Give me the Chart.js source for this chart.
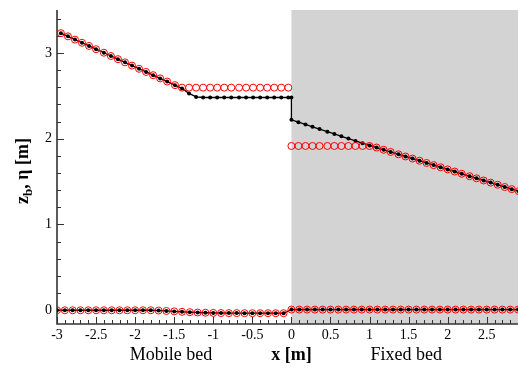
<!DOCTYPE html>
<html>
<head>
<meta charset="utf-8">
<script src="https://cdn.jsdelivr.net/npm/chart.js@4/dist/chart.umd.min.js"></script>
<style>
  html, body { margin: 0; padding: 0; background: #fff; }
  #wrap { width: 518px; height: 370px; }
</style>
</head>
<body>
<div id="wrap"><canvas id="c" width="518" height="370"></canvas></div>
<script>
// Bed elevation z_b, sampled every 0.1 m
const bedX = [-3.0,-2.9,-2.8,-2.7,-2.6,-2.5,-2.4,-2.3,-2.2,-2.1,-2.0,-1.9,-1.8,-1.7,-1.6,-1.5,-1.4,-1.3,-1.2,-1.1,-1.0,-0.9,-0.8,-0.7,-0.6,-0.5,-0.4,-0.3,-0.2,-0.1,
              0.0,0.1,0.2,0.3,0.4,0.5,0.6,0.7,0.8,0.9,1.0,1.1,1.2,1.3,1.4,1.5,1.6,1.7,1.8,1.9,2.0,2.1,2.2,2.3,2.4,2.5,2.6,2.7,2.8,2.9];
const bedNumeric = [0,0,0,0,0,0,0,0,0,0,0,0,0,-0.003,-0.008,-0.013,-0.018,-0.022,-0.026,-0.029,-0.031,-0.032,-0.033,-0.033,-0.034,-0.034,-0.034,-0.034,-0.034,-0.034,
              0.008,0.008,0.008,0.008,0.008,0.008,0.008,0.008,0.008,0.008,0.008,0.008,0.008,0.008,0.008,0.008,0.008,0.008,0.008,0.008,0.008,0.008,0.008,0.008,0.008,0.008,0.008,0.008,0.008,0.008];
const bedReference = [0,0,0,0,0,0,0,0,0,0,0,0,0,-0.003,-0.008,-0.013,-0.018,-0.022,-0.026,-0.029,-0.031,-0.032,-0.033,-0.033,-0.034,-0.034,-0.034,-0.034,-0.034,-0.034,
              0.008,0.008,0.008,0.008,0.008,0.008,0.008,0.008,0.008,0.008,0.008,0.008,0.008,0.008,0.008,0.008,0.008,0.008,0.008,0.008,0.008,0.008,0.008,0.008,0.008,0.008,0.008,0.008,0.008,0.008];

// Free surface eta: reference solution (open circles)
const surfRefX = [-2.95,-2.86,-2.77,-2.68,-2.59,-2.50,-2.40,-2.31,-2.22,-2.13,-2.04,-1.95,-1.86,-1.77,-1.68,-1.59,-1.49,-1.40,-1.31,-1.22,-1.13,-1.04,-0.95,-0.86,-0.77,-0.67,-0.58,-0.49,-0.40,-0.31,-0.22,-0.13,-0.04,
              0.00,0.09,0.18,0.27,0.36,0.46,0.55,0.64,0.73,0.82,0.91,1.00,1.09,1.18,1.27,1.37,1.46,1.55,1.64,1.73,1.82,1.91,2.00,2.09,2.18,2.28,2.37,2.46,2.55,2.64,2.73,2.82,2.91];
const surfReference = [3.230,3.193,3.155,3.118,3.081,3.043,3.002,2.964,2.927,2.890,2.852,2.815,2.778,2.740,2.703,2.666,2.624,2.595,2.595,2.595,2.595,2.595,2.595,2.595,2.595,2.595,2.595,2.595,2.595,2.595,2.595,2.595,2.595,
              1.915,1.915,1.915,1.915,1.915,1.915,1.915,1.915,1.915,1.915,1.915,1.915,1.897,1.871,1.846,1.818,1.793,1.768,1.743,1.717,1.692,1.667,1.642,1.617,1.591,1.563,1.538,1.513,1.488,1.463,1.437,1.412,1.387];

// Free surface eta: numerical solution (dots + line), with the jump at x = 0
const surfNumX = [-2.95,-2.86,-2.77,-2.68,-2.59,-2.50,-2.40,-2.31,-2.22,-2.13,-2.04,-1.95,-1.86,-1.77,-1.68,-1.59,-1.49,-1.40,-1.31,-1.22,-1.13,-1.04,-0.95,-0.86,-0.77,-0.67,-0.58,-0.49,-0.40,-0.31,-0.22,-0.13,-0.04,0.00,
              0.00,0.09,0.18,0.27,0.36,0.46,0.55,0.64,0.73,0.82,0.91,1.00,1.09,1.18,1.27,1.37,1.46,1.55,1.64,1.73,1.82,1.91,2.00,2.09,2.18,2.28,2.37,2.46,2.55,2.64,2.73,2.82,2.91];
const surfNumeric = [3.230,3.193,3.155,3.118,3.081,3.043,3.002,2.964,2.927,2.890,2.852,2.815,2.778,2.740,2.703,2.666,2.624,2.585,2.528,2.487,2.480,2.480,2.480,2.480,2.480,2.480,2.480,2.480,2.480,2.480,2.480,2.480,2.480,2.480,
              2.220,2.193,2.166,2.139,2.112,2.082,2.055,2.028,2.001,1.974,1.947,1.922,1.897,1.871,1.846,1.818,1.793,1.768,1.743,1.717,1.692,1.667,1.642,1.617,1.591,1.563,1.538,1.513,1.488,1.463,1.437,1.412,1.387];

const xTickValues = [-3,-2.5,-2,-1.5,-1,-0.5,0,0.5,1,1.5,2,2.5];
const yTickValues = [0,1,2,3];
const zoneLabels = ['Mobile bed', 'Fixed bed'];

const pts = (xs, ys) => xs.map((x, i) => ({ x: x, y: ys[i] }));
const SERIF = '"Liberation Serif", "Times New Roman", serif';

// Grey shading for the fixed-bed part (x >= 0)
const fixedBedShade = {
  id: 'fixedBedShade',
  beforeDatasetsDraw(chart) {
    const { ctx, chartArea: a, scales: { x } } = chart;
    const x0 = x.getPixelForValue(0);
    ctx.save();
    ctx.fillStyle = '#d3d3d3';
    ctx.fillRect(x0, a.top, a.right - x0, a.bottom - a.top);
    ctx.restore();
  }
};

// Axis lines, inward major/minor ticks and tick labels
const frameTicks = {
  id: 'frameTicks',
  beforeDatasetsDraw(chart) {
    const { ctx, chartArea: a, scales: { x, y } } = chart;
    ctx.save();
    ctx.strokeStyle = '#333';
    ctx.lineWidth = 1;
    ctx.beginPath();
    for (let k = -30; k <= 29; k++) {
      const px = Math.round(x.getPixelForValue(k / 10)) + 0.5;
      const len = (k % 5 === 0) ? 7 : 4;
      ctx.moveTo(px, a.bottom);
      ctx.lineTo(px, a.bottom - len);
    }
    for (let k = 0; k <= 17; k++) {
      const py = Math.round(y.getPixelForValue(k / 5)) + 0.5;
      const len = (k % 5 === 0) ? 7 : 4;
      ctx.moveTo(a.left, py);
      ctx.lineTo(a.left + len, py);
    }
    ctx.stroke();
    ctx.lineWidth = 1.6;
    ctx.beginPath();
    ctx.moveTo(a.left, a.top);
    ctx.lineTo(a.left, a.bottom);
    ctx.lineTo(a.right, a.bottom);
    ctx.stroke();

    ctx.fillStyle = '#000';
    ctx.font = '14px ' + SERIF;
    ctx.textAlign = 'center';
    ctx.textBaseline = 'middle';
    xTickValues.forEach(v => ctx.fillText(String(v), x.getPixelForValue(v), a.bottom + 11));
    ctx.textAlign = 'right';
    yTickValues.forEach(v => ctx.fillText(String(v), a.left - 5, y.getPixelForValue(v)));
    ctx.restore();
  }
};

// Axis titles and zone captions
const captions = {
  id: 'captions',
  afterDraw(chart) {
    const { ctx, scales: { x } } = chart;
    ctx.save();
    ctx.fillStyle = '#000';
    ctx.textBaseline = 'middle';
    ctx.textAlign = 'center';
    const yCap = 355;
    ctx.font = '18px ' + SERIF;
    ctx.fillText(zoneLabels[0], x.getPixelForValue(-1.54), yCap);
    ctx.fillText(zoneLabels[1], x.getPixelForValue(1.47), yCap);
    ctx.font = 'bold 18px ' + SERIF;
    ctx.fillText('x [m]', x.getPixelForValue(0), yCap);

    // y title: z with subscript b, then ", η [m]"
    ctx.translate(22, 171);
    ctx.rotate(-Math.PI / 2);
    ctx.textAlign = 'left';
    ctx.textBaseline = 'alphabetic';
    const big = 'bold 18px ' + SERIF, small = 'bold 13px ' + SERIF;
    ctx.font = big;  const w1 = ctx.measureText('z').width;
    ctx.font = small; const w2 = ctx.measureText('b').width;
    ctx.font = big;  const w3 = ctx.measureText(', \u03b7 [m]').width;
    let cx = -(w1 + w2 + w3) / 2;
    const base = 6;
    ctx.font = big; ctx.fillText('z', cx, base); cx += w1;
    ctx.font = small; ctx.fillText('b', cx, base + 4); cx += w2;
    ctx.font = big; ctx.fillText(', \u03b7 [m]', cx, base);
    ctx.restore();
  }
};

const red = '#ff0000';
new Chart(document.getElementById('c'), {
  type: 'scatter',
  data: {
    datasets: [
      { label: 'eta reference', data: pts(surfRefX, surfReference), showLine: false,
        pointRadius: 3.5, pointBorderWidth: 1, pointBorderColor: red, pointBackgroundColor: 'rgba(0,0,0,0)' },
      { label: 'zb reference', data: pts(bedX, bedReference), showLine: false,
        pointRadius: 3.5, pointBorderWidth: 1, pointBorderColor: red, pointBackgroundColor: 'rgba(0,0,0,0)' },
      { label: 'eta numeric', data: pts(surfNumX, surfNumeric), showLine: true,
        borderColor: '#000', borderWidth: 1.3, pointRadius: 2, pointBorderWidth: 0, pointBackgroundColor: '#000' },
      { label: 'zb numeric', data: pts(bedX, bedNumeric), showLine: true,
        borderColor: '#000', borderWidth: 1.3, pointRadius: 2, pointBorderWidth: 0, pointBackgroundColor: '#000' }
    ]
  },
  options: {
    responsive: false,
    devicePixelRatio: 1,
    animation: false,
    layout: { autoPadding: false, padding: { top: 10, right: 0, left: 0, bottom: 0 } },
    plugins: { legend: { display: false }, tooltip: { enabled: false } },
    elements: { line: { tension: 0 } },
    scales: {
      x: {
        type: 'linear', min: -3, max: 2.9,
        afterFit(s) { s.height = 46; },
        grid: { display: false, drawTicks: false },
        border: { display: false },
        ticks: { display: false }
      },
      y: {
        type: 'linear', min: -0.16, max: 3.5,
        afterFit(s) { s.width = 57; },
        grid: { display: false, drawTicks: false },
        border: { display: false },
        ticks: { display: false }
      }
    }
  },
  plugins: [fixedBedShade, frameTicks, captions]
});
</script>
</body>
</html>
